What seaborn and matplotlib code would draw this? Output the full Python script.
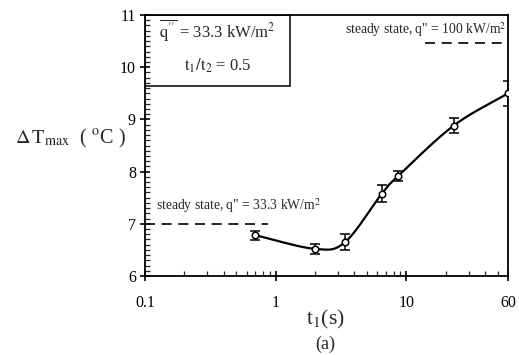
import numpy as np
import pandas as pd
import matplotlib
matplotlib.use("Agg")
import matplotlib.pyplot as plt
from matplotlib.patches import Rectangle
from matplotlib.ticker import FixedLocator, NullFormatter, MultipleLocator
import seaborn as sns

# Measured maximum temperature rise versus heating period t1
t1_s = [0.7, 2.0, 3.4, 6.5, 8.7, 23.0, 60.0]
dT_max = [6.78, 6.52, 6.65, 7.58, 7.92, 8.88, 9.50]
dT_err = [0.09, 0.09, 0.15, 0.16, 0.10, 0.14, 0.24]

steady_low = 7.0      # steady state, q" = 33.3 kW/m2
steady_high = 10.47   # steady state, q" = 100 kW/m2

x_ticks = [0.1, 1, 10, 60]
x_tick_labels = ["0.1", "1", "10", "60"]
y_ticks = [6, 7, 8, 9, 10, 11]

sns.set_theme(style="ticks")
plt.rcParams["font.family"] = ["Liberation Serif", "DejaVu Serif"]
plt.rcParams["mathtext.fontset"] = "stix"

fig = plt.figure(figsize=(5.19, 3.55), dpi=100)
ax = fig.add_axes([0.2794, 0.2225, 0.6994, 0.7352])

df = pd.DataFrame({"t1": t1_s, "dT": dT_max, "err": dT_err})

# Smooth curve through the measurements (Catmull-Rom in log t)
lx = np.log10(df["t1"].to_numpy())
ly = df["dT"].to_numpy()
px = np.concatenate([[2 * lx[0] - lx[1]], lx, [2 * lx[-1] - lx[-2]]])
py = np.concatenate([[2 * ly[0] - ly[1]], ly, [2 * ly[-1] - ly[-2]]])
cx, cy = [], []
u = np.linspace(0, 1, 40)
for i in range(1, len(px) - 2):
    p0x, p1x, p2x, p3x = px[i - 1:i + 3]
    p0y, p1y, p2y, p3y = py[i - 1:i + 3]
    cx.append(0.5 * (2 * p1x + (-p0x + p2x) * u + (2 * p0x - 5 * p1x + 4 * p2x - p3x) * u**2
                     + (-p0x + 3 * p1x - 3 * p2x + p3x) * u**3))
    cy.append(0.5 * (2 * p1y + (-p0y + p2y) * u + (2 * p0y - 5 * p1y + 4 * p2y - p3y) * u**2
                     + (-p0y + 3 * p1y - 3 * p2y + p3y) * u**3))
curve = pd.DataFrame({"t1": 10 ** np.concatenate(cx), "dT": np.concatenate(cy)})

sns.lineplot(data=curve, x="t1", y="dT", ax=ax, color="black", lw=1.6,
             sort=False, estimator=None, zorder=2)
ax.errorbar(df["t1"], df["dT"], yerr=df["err"], fmt="none", ecolor="black",
            elinewidth=1.1, capsize=3.5, capthick=1.1, zorder=3)
sns.scatterplot(data=df, x="t1", y="dT", ax=ax, marker="o", s=22,
                facecolor="white", edgecolor="black", linewidth=1.1, zorder=4)

# Steady-state reference levels
ax.plot([0.1, 0.87], [steady_low, steady_low], color="black", lw=1.2,
        dashes=(6, 4), zorder=2)
ax.plot([13.9, 60], [steady_high, steady_high], color="black", lw=1.2,
        dashes=(6, 4), zorder=2)
ax.text(0.122, steady_low + 0.16, 'steady state, q" = 33.3 kW/m$^2$',
        fontsize=9.8, ha="left", va="bottom")
ax.text(58, steady_high + 0.08, 'steady state, q" = 100 kW/m$^2$',
        fontsize=9.8, ha="right", va="bottom")

# Parameter box in upper-left corner
ax.add_patch(Rectangle((0, 0.728), 0.40, 0.272, transform=ax.transAxes,
                       fill=False, edgecolor="black", lw=1.1, zorder=5))
ax.text(0.20, 0.94, r'$\overline{\mathrm{q}^{\prime\prime}}$ = 33.3 kW/m$^2$',
        transform=ax.transAxes, fontsize=12, ha="center", va="center")
ax.text(0.20, 0.805, r'$\mathrm{t}_1/\mathrm{t}_2$ = 0.5',
        transform=ax.transAxes, fontsize=12, ha="center", va="center")

ax.set_xscale("log")
ax.set_xlim(0.1, 60)
ax.set_ylim(6, 11)
ax.xaxis.set_major_locator(FixedLocator(x_ticks))
ax.set_xticklabels(x_tick_labels)
minor_x = [m * d for d in (0.1, 1, 10) for m in range(2, 10) if m * d < 60]
ax.xaxis.set_minor_locator(FixedLocator(minor_x))
ax.xaxis.set_minor_formatter(NullFormatter())
ax.set_yticks(y_ticks)
ax.yaxis.set_minor_locator(MultipleLocator(0.1))

ax.tick_params(which="major", direction="inout", length=7, width=1.2,
               labelsize=11.5, colors="black", pad=3, top=False, right=False)
ax.tick_params(which="minor", direction="in", length=3.5, width=0.9,
               top=False, right=False)
ax.tick_params(axis="x", which="major", pad=10)

for side in ["left", "right", "top", "bottom"]:
    ax.spines[side].set_visible(True)
    ax.spines[side].set_color("black")
    ax.spines[side].set_linewidth(1.3)

ax.set_xlabel("")
ax.set_ylabel("")
fig.text(0.028, 0.61, r'$\Delta\,\mathrm{T}_{\mathrm{max}}$  ( $^{\mathrm{o}}$C )',
         fontsize=14.5, ha="left", va="center")
fig.text(0.626, 0.1, r'$\mathrm{t}_1$(s)', fontsize=15.5, ha="center", va="center")
fig.text(0.626, 0.03, "(a)", fontsize=13, ha="center", va="center")

fig.savefig("out.png", dpi=100, facecolor="white")
